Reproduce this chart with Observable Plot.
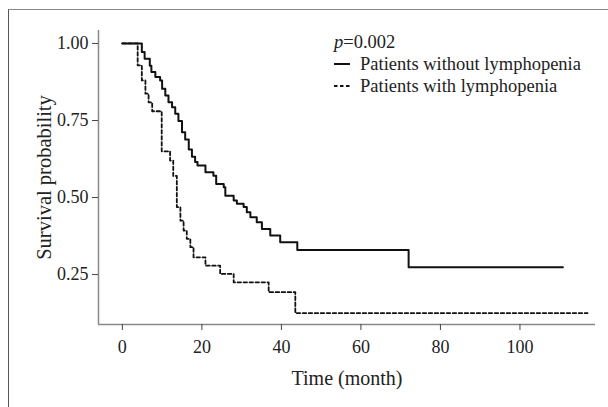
<!DOCTYPE html>
<html><head><meta charset="utf-8">
<script src="https://cdn.jsdelivr.net/npm/d3@7"></script>
<script src="https://cdn.jsdelivr.net/npm/@observablehq/plot@0.6"></script>
<style>
body{margin:0;background:#fff;}
#wrap{position:relative;width:608px;height:407px;overflow:hidden;font-family:"Liberation Serif",serif;}
#frame{position:absolute;left:8px;top:9px;width:640px;height:440px;border-top:1.5px solid #888;border-left:1.5px solid #555;}
#chart{position:absolute;left:0;top:0;}
#legend{position:absolute;left:334px;top:31px;font-size:18.5px;color:#222;line-height:22px;}
#legend .row{display:flex;align-items:center;white-space:nowrap;}
#legend svg{margin-right:10px;}
</style></head><body>
<div id="wrap"><div id="frame"></div><div id="chart"></div><div id="legend"></div></div>
<script>
// Patients without lymphopenia (solid)
const withoutTime = [0, 4.9, 5.6, 6.9, 7.3, 8.3, 9.5, 10.0, 10.8, 11.6, 12.5, 13.3, 14.1, 15.0, 15.8, 16.7, 17.5, 18.3, 18.9, 20.9, 22.9, 23.6, 25.5, 25.9, 28.0, 28.8, 30.5, 31.3, 32.2, 33.8, 35.1, 37.2, 39.7, 44.0, 72.0, 110.8];
const withoutSurv = [1.0, 0.972, 0.950, 0.928, 0.907, 0.891, 0.880, 0.853, 0.831, 0.809, 0.793, 0.772, 0.748, 0.712, 0.688, 0.656, 0.632, 0.615, 0.604, 0.582, 0.571, 0.544, 0.533, 0.506, 0.490, 0.480, 0.469, 0.452, 0.436, 0.420, 0.398, 0.377, 0.355, 0.330, 0.274, 0.274];
// Patients with lymphopenia (dashed)
const withTime = [0, 3.85, 4.9, 5.8, 6.6, 7.5, 9.9, 12.0, 12.8, 13.7, 14.6, 15.4, 16.2, 17.1, 17.9, 20.9, 24.6, 28.0, 36.8, 43.5, 117.0];
const withSurv = [1.0, 0.929, 0.880, 0.837, 0.809, 0.780, 0.650, 0.620, 0.570, 0.469, 0.425, 0.393, 0.366, 0.339, 0.306, 0.279, 0.252, 0.225, 0.193, 0.125, 0.125];

const seriesNames = ["Patients without lymphopenia", "Patients with lymphopenia"];
const pValueText = "0.002";
const xTicks = [0, 20, 40, 60, 80, 100];
const yTicks = [0.25, 0.50, 0.75, 1.00];
const xLabel = "Time (month)";
const yLabel = "Survival probability";
const xDomain = [-6, 119];
const yDomain = [0.088, 1.042];

const dash = "3.5,2.5";
const rows = [];
withoutTime.forEach((t, i) => rows.push({group: seriesNames[0], t, s: withoutSurv[i]}));
withTime.forEach((t, i) => rows.push({group: seriesNames[1], t, s: withSurv[i]}));

const chart = Plot.plot({
  width: 608, height: 407,
  marginLeft: 98, marginRight: 13, marginTop: 30, marginBottom: 83,
  x: {domain: xDomain},
  y: {domain: yDomain},
  style: {fontFamily: "Liberation Serif, serif", fontSize: "18px", color: "#222", background: "transparent"},
  marks: [
    Plot.ruleX([xDomain[0]], {stroke: "#888", strokeWidth: 1.5}),
    Plot.ruleY([yDomain[0]], {stroke: "#888", strokeWidth: 1.5}),
    Plot.axisY({ticks: yTicks, tickFormat: d3.format(".2f"), tickSize: 6, tickPadding: 4, stroke: "#444", fontSize: 18, label: null}),
    Plot.axisY({ticks: [], label: yLabel, labelAnchor: "center", labelOffset: 62, labelArrow: "none", fontSize: 20.5}),
    Plot.axisX({ticks: xTicks, tickSize: 6, tickPadding: 10, stroke: "#444", fontSize: 18, label: null}),
    Plot.axisX({ticks: [], label: xLabel, labelAnchor: "center", labelOffset: 60, labelArrow: "none", fontSize: 20}),
    Plot.line(rows.filter(d => d.group === seriesNames[0]), {x: "t", y: "s", curve: "step-after", stroke: "#111", strokeWidth: 2}),
    Plot.line(rows.filter(d => d.group === seriesNames[1]), {x: "t", y: "s", curve: "step-after", stroke: "#111", strokeWidth: 1.8, strokeDasharray: dash})
  ]
});
document.getElementById("chart").appendChild(chart);

const legend = document.getElementById("legend");
const pRow = document.createElement("div");
pRow.className = "row";
pRow.innerHTML = "<span><i>p</i>=" + pValueText + "</span>";
legend.appendChild(pRow);
seriesNames.forEach((name, i) => {
  const r = document.createElement("div");
  r.className = "row";
  r.innerHTML = '<svg width="16" height="10"><line x1="0" x2="16" y1="5" y2="5" stroke="#111" stroke-width="2"' +
    (i === 1 ? ' stroke-dasharray="' + dash + '"' : '') + '/></svg><span>' + name + '</span>';
  legend.appendChild(r);
});
</script>
</body></html>
